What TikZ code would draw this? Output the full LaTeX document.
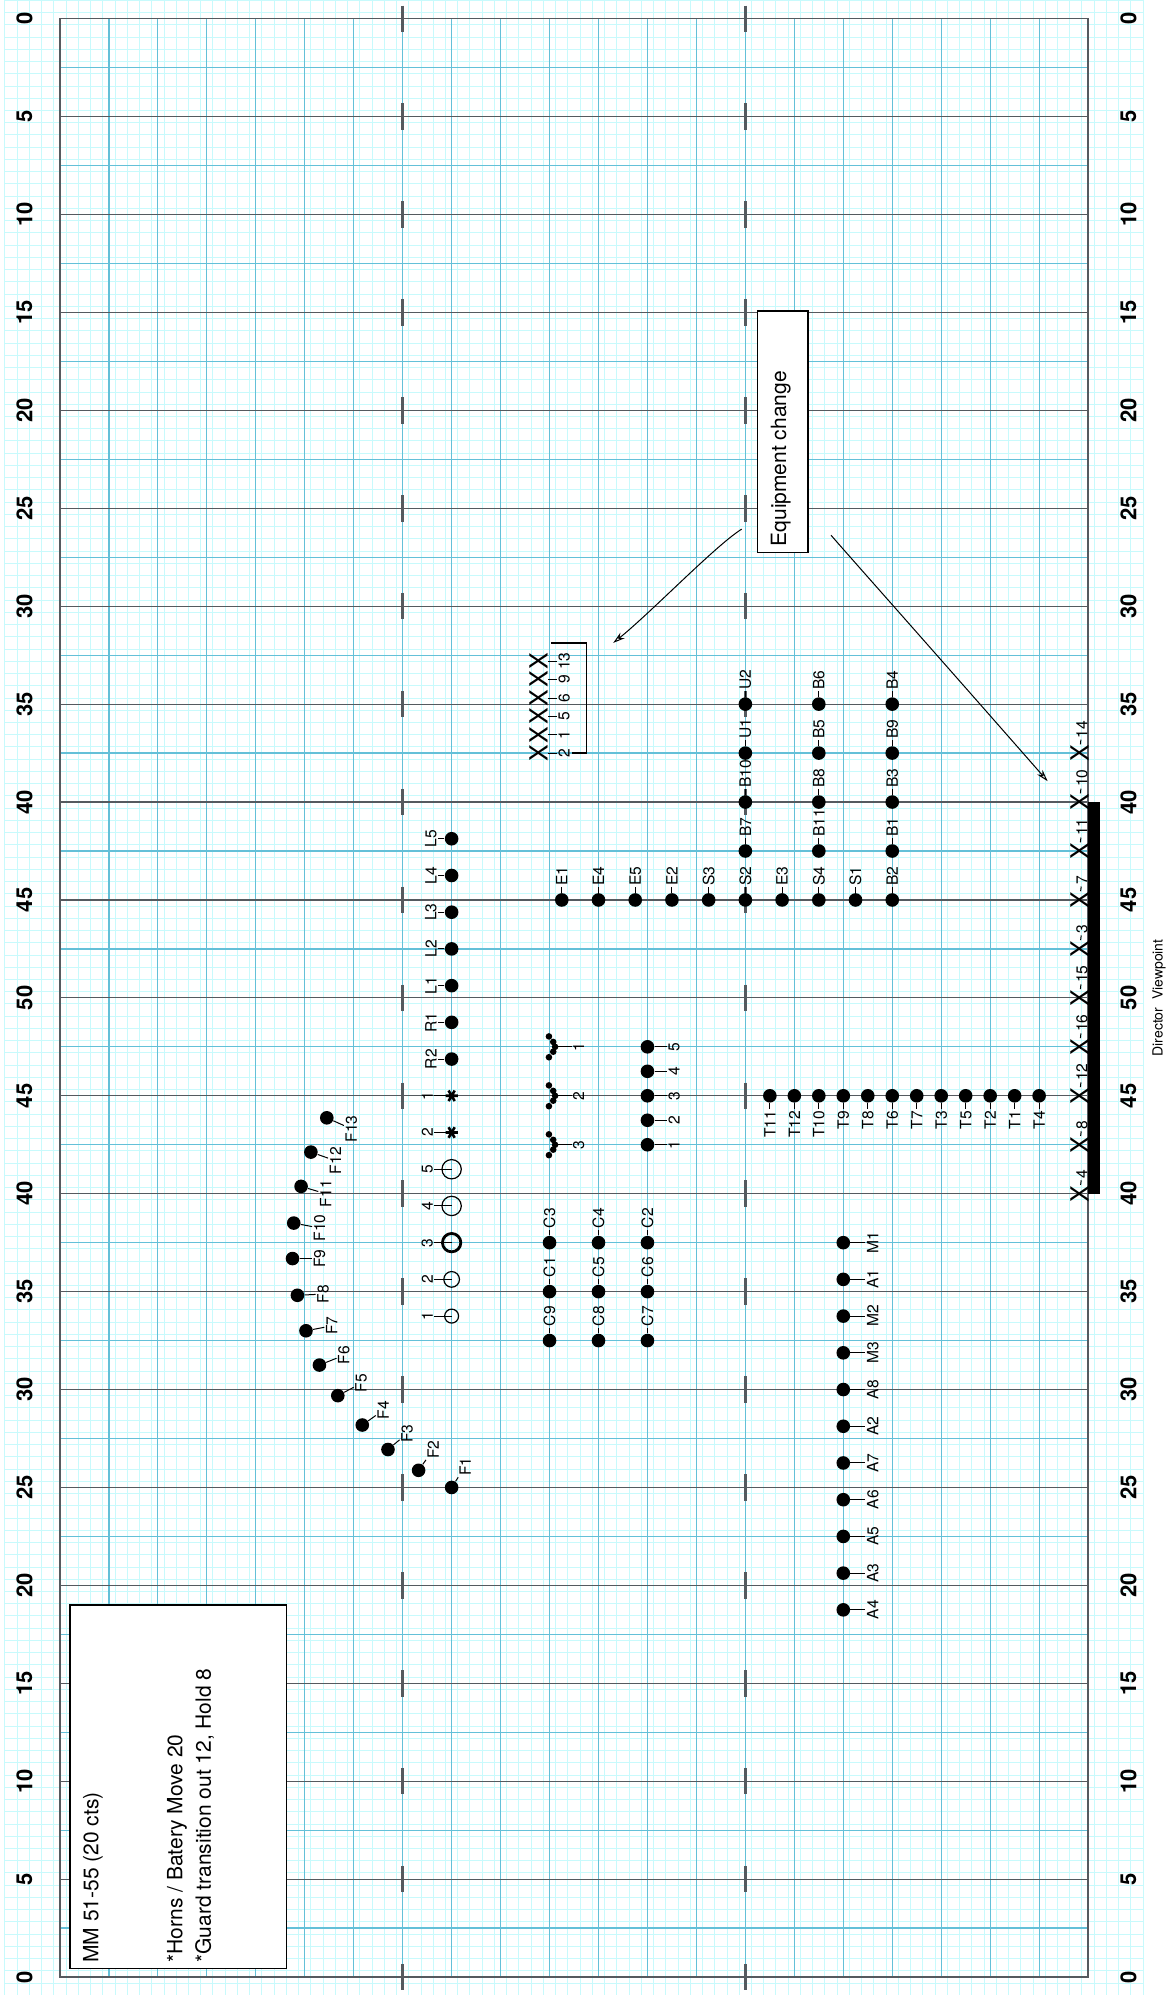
\documentclass[tikz,border=0pt]{standalone}
\usepackage{fontspec}
\setmainfont{TeX Gyre Heros}
\usepackage{tikz}
\usetikzlibrary{arrows.meta}
\definecolor{finegrid}{RGB}{200,250,252}
\definecolor{midgrid}{RGB}{100,192,216}
\definecolor{yardline}{RGB}{85,90,95}

\begin{document}
\begin{tikzpicture}[x=6.12pt,y=-6.12pt,>={Stealth[length=6pt,width=3.5pt,open]},
  player/.style={circle,fill=black,inner sep=0pt,minimum size=6.8pt},
  plabel/.style={rotate=90,inner sep=0.6pt,font=\fontsize{7.8}{8.5}\selectfont},
  xmark/.style={rotate=90,inner sep=0pt,font=\fontsize{12.5}{13}\selectfont},
  leader/.style={line width=0.5pt},
  yardnum/.style={rotate=90,inner sep=0pt,font=\fontsize{11}{12}\selectfont\bfseries},
  hash/.style={yardline,line width=1.4pt},
  note/.style={rotate=90,inner sep=0pt,anchor=base west,font=\fontsize{10.5}{12}\selectfont},
  notebox/.style={draw=black,fill=white,line width=0.8pt}]
\fill[white] (-4.9,-1.53) rectangle (91.18,161.47);
\useasboundingbox (-4.9,-1.53) rectangle (91.18,161.47);

% grid, one step per line
\foreach \k in {0,...,93} \draw[finegrid,line width=0.5pt] (\k-4.5,-1.53) -- (\k-4.5,161.47);
\foreach \k in {0,...,162} \draw[finegrid,line width=0.5pt] (-4.5,\k-1.5) -- (88.5,\k-1.5);
\foreach \k in {1,...,20} \draw[midgrid,line width=0.6pt] (4*\k,0) -- (4*\k,160);
\foreach \k in {0,...,19} \draw[midgrid,line width=0.6pt] (0,8*\k+4) -- (84,8*\k+4);
\foreach \k in {0,...,20} \draw[yardline,line width=0.6pt] (0,8*\k) -- (84,8*\k);
\draw[yardline,line width=0.7pt] (0,0) rectangle (84,160);
\foreach \k in {0,...,20} {
  \draw[hash] (28,8*\k-1.08) -- (28,8*\k+1.08);
  \draw[hash] (56,8*\k-1.08) -- (56,8*\k+1.08);
}
\foreach \k/\n in {0/0,1/5,2/10,3/15,4/20,5/25,6/30,7/35,8/40,9/45,10/50,
  11/45,12/40,13/35,14/30,15/25,16/20,17/15,18/10,19/5,20/0} {
  \node[yardnum] (numL\k) at (-2.9,8*\k) {\n};
  \node[yardnum] (numR\k) at (87.3,8*\k) {\n};
}
\fill[black] (84,64) rectangle (84.95,96);
\node[rotate=90,inner sep=0pt,font=\fontsize{7}{8}\selectfont] (director) at (89.8,80) {Director~~Viewpoint};

% notes
\draw[notebox] (0.82,129.6) rectangle (18.52,159.3);
\node[note] (mm) at (3.13,158.85) {MM 51-55 (20 cts)};
\node[note] (horns) at (10.0,158.85) {*Horns / Batery Move 20};
\node[note] (guard) at (12.33,158.85) {*Guard transition out 12, Hold 8};
\draw[notebox] (57,23.9) rectangle (61.1,43.6);
\node[note] (equip) at (59.33,43.14) {Equipment change};
\coordinate (eqA) at (55.7,41.7);
\coordinate (eqB) at (63.0,42.2);
\coordinate (tgtA) at (45.2,51.0);
\coordinate (tgtB) at (80.7,62.3);
\draw[->,line width=0.5pt] (eqA) .. controls (53.6,43.0) and (48.2,48.6) .. (tgtA);
\draw[->,line width=0.5pt] (eqB) .. controls (64.2,43.6) and (70,50.1) .. (tgtB);

% labels above
\foreach \nm/\x/\y in {E1/41/72,E4/44/72,E5/47/72,E2/50/72,S3/53/72,S2/56/72,E3/59/72,
  S4/62/72,S1/65/72,B2/68/72,U2/56/56,U1/56/60,B10/56/64,B7/56/68,
  B6/62/56,B5/62/60,B8/62/64,B11/62/68,B4/68/56,B9/68/60,B3/68/64,B1/68/68,
  C3/40/100,C1/40/104,C9/40/108,C4/44/100,C5/44/104,C8/44/108,
  C2/48/100,C6/48/104,C7/48/108} {
  \node[player] (\nm) at (\x,\y) {};
  \node[plabel,anchor=west] (t\nm) at (\x,\y-1.05) {\nm};
  \draw[leader] (\nm) -- (t\nm);
}
% labels below
\foreach \nm/\x in {T11/58,T12/60,T10/62,T9/64,T8/66,T6/68,T7/70,T3/72,T5/74,T2/76,T1/78,T4/80} {
  \node[player] (\nm) at (\x,88) {};
  \node[plabel,anchor=east] (t\nm) at (\x,89.1) {\nm};
  \draw[leader] (\nm) -- (t\nm);
}
% labels left
\foreach \nm/\y in {L5/67,L4/70,L3/73,L2/76,L1/79,R1/82,R2/85} {
  \node[player] (\nm) at (32,\y) {};
  \node[plabel,anchor=south] (t\nm) at (30.9,\y) {\nm};
  \draw[leader] (\nm) -- (t\nm);
}
% labels right
\foreach \nm/\y in {M1/100,A1/103,M2/106,M3/109,A8/112,A2/115,A7/118,A6/121,A5/124,A3/127,A4/130} {
  \node[player] (\nm) at (64,\y) {};
  \node[plabel,anchor=north] (t\nm) at (65.8,\y) {\nm};
  \draw[leader] (\nm) -- (t\nm);
}
\foreach \nm/\y in {5/84,4/86,3/88,2/90,1/92} {
  \node[player] (n\nm) at (48,\y) {};
  \node[plabel,anchor=north] (tn\nm) at (49.6,\y) {\nm};
  \draw[leader] (n\nm) -- (tn\nm);
}
\foreach \nm/\y in {1/84,2/88,3/92} {
  \foreach \dx/\dy in {-0.05/-0.85,0.3/-0.4,0.45/0,0.3/0.4,-0.05/0.85}
    \fill (40+\dx,\y+\dy) circle[radius=0.27];
  \coordinate (cl\nm) at (40.45,\y);
  \node[plabel,anchor=north] (tcl\nm) at (41.8,\y) {\nm};
  \draw[leader] (cl\nm) -- (tcl\nm);
}
% props
\foreach \nm/\y in {1/88,2/91} {
  \coordinate (st\nm) at (32,\y);
  \draw[line width=1.3pt] (31.5,\y) -- (32.5,\y)
    (31.75,\y-0.43) -- (32.25,\y+0.43) (31.75,\y+0.43) -- (32.25,\y-0.43);
  \node[plabel,anchor=south] (tst\nm) at (30.6,\y) {\nm};
  \draw[leader] (tst\nm) -- (st\nm);
}
\foreach \nm/\y/\r/\w in {5/94/0.79/0.6pt,4/97/0.79/0.6pt,3/100/0.75/1.4pt,2/103/0.64/0.6pt,1/106/0.57/0.6pt} {
  \coordinate (pr\nm) at (32,\y);
  \draw[line width=\w] (pr\nm) circle[radius=\r];
  \node[plabel,anchor=south] (tpr\nm) at (30.6,\y) {\nm};
  \draw[leader] (tpr\nm) -- (pr\nm);
}
% flags arc
\foreach \nm/\x/\y/\lx/\ly in {F1/32.0/120.0/33.1/118.3,F2/29.3/118.6/30.5/116.9,
  F3/26.8/116.9/28.35/115.6,F4/24.7/114.9/26.4/113.7,F5/22.7/112.5/24.6/111.5,
  F6/21.2/110.0/23.2/109.2,F7/20.1/107.2/22.2/106.8,F8/19.4/104.3/21.5/104.2,
  F9/19.0/101.3/21.2/101.3,F10/19.1/98.4/21.2/98.8,F11/19.7/95.4/21.7/96.0,
  F12/20.5/92.6/22.5/93.3,F13/21.8/89.8/23.8/90.7} {
  \node[player] (\nm) at (\x,\y) {};
  \node[plabel] (t\nm) at (\lx,\ly) {\nm};
  \draw[leader] (\nm) -- (t\nm);
}
% guard
\foreach \nm/\y in {14/60,10/64,11/68,7/72,3/76,15/80,16/84,12/88,8/92,4/96} {
  \node[xmark] (X\nm) at (83.3,\y) {X};
  \node[plabel,anchor=west] (tX\nm) at (83.5,\y-1.1) {\nm};
  \draw[leader] (X\nm) -- (tX\nm);
}
\foreach \nm/\y in {13/52.5,9/54,6/55.5,5/57,1/58.5,2/60} {
  \node[xmark] (xq\nm) at (39.1,\y) {X};
  \node[plabel,anchor=north] (txq\nm) at (40.6,\y) {\nm};
  \draw[leader] (xq\nm) -- (txq\nm);
}
\draw[line width=0.6pt] (40.1,51) -- (43,51) -- (43,60) -- (41.8,60);
\end{tikzpicture}
\end{document}
